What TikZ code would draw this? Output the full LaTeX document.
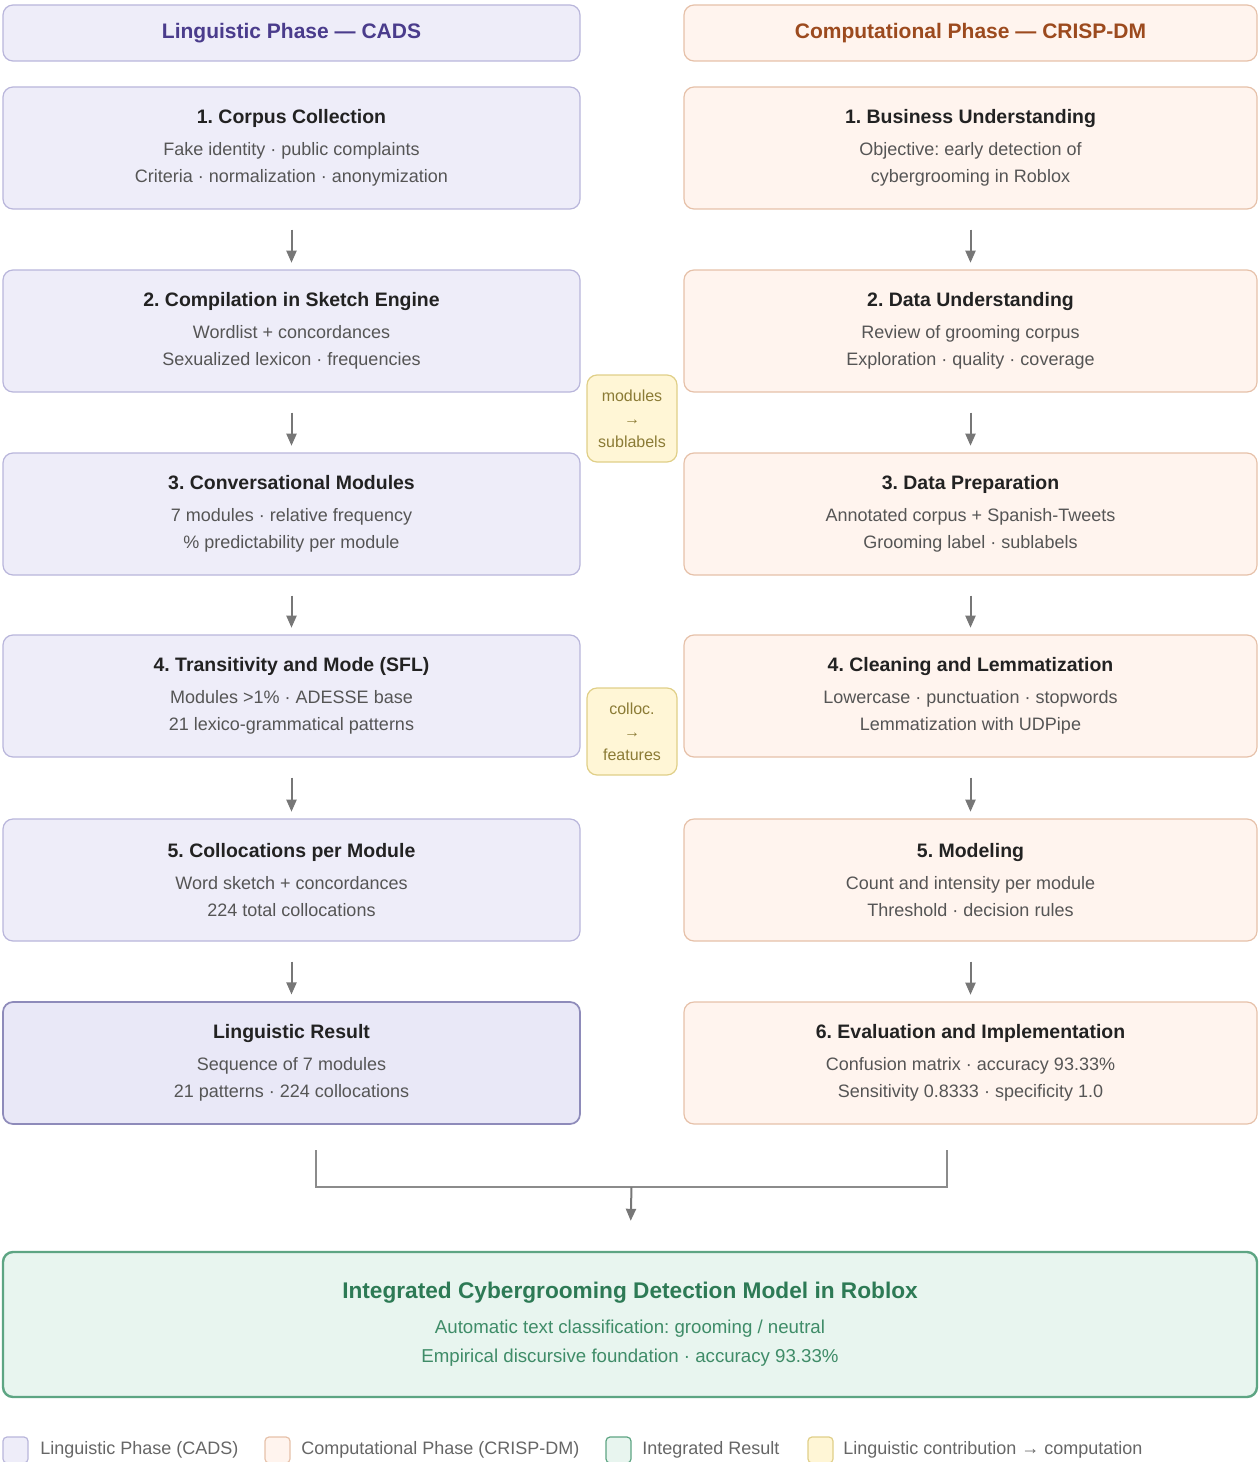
\documentclass[tikz,border=0pt]{standalone}
\usepackage{fontspec}
\setmainfont{Liberation Sans}
\frenchspacing
\usetikzlibrary{arrows.meta,calc}
\definecolor{lfill}{HTML}{EEEDF9}
\definecolor{ldraw}{HTML}{B9B6DB}
\definecolor{lhead}{HTML}{4A3C8C}
\definecolor{rfill}{HTML}{FFF4EE}
\definecolor{rdraw}{HTML}{E6C1A9}
\definecolor{rhead}{HTML}{9C4A1E}
\definecolor{yfill}{HTML}{FFF6D6}
\definecolor{ydraw}{HTML}{E0CF88}
\definecolor{ytext}{HTML}{8B7B35}
\definecolor{gfill}{HTML}{E8F5EF}
\definecolor{gdraw}{HTML}{5DA583}
\definecolor{gtitle}{HTML}{2D7A55}
\definecolor{gtext}{HTML}{3F8C68}
\definecolor{bodytext}{HTML}{555555}
\definecolor{titletext}{HTML}{222222}
\definecolor{arrowgray}{HTML}{777777}
\definecolor{resdraw}{HTML}{8E8BBA}
\definecolor{resfill}{HTML}{E9E8F7}
\definecolor{legtext}{HTML}{666666}
\newcommand{\boxtext}[3]{{\fontsize{14.6}{20.25}\selectfont\bfseries\color{titletext}#1}\\[3.75pt]#2\\#3}
\tikzset{
  base/.style={rounded corners=7.5pt, line width=0.9pt, align=center, inner sep=0pt},
  lhdr/.style={base, fill=lfill, draw=ldraw, minimum width=432.75pt, minimum height=42pt, text=lhead, font=\fontsize{15.75}{18}\selectfont\bfseries},
  rhdr/.style={base, fill=rfill, draw=rdraw, minimum width=429.75pt, minimum height=42pt, text=rhead, font=\fontsize{15.75}{18}\selectfont\bfseries},
  lstep/.style={base, fill=lfill, draw=ldraw, minimum width=432.75pt, minimum height=91.5pt, text=bodytext, font=\fontsize{13.5}{20.25}\selectfont},
  rstep/.style={base, fill=rfill, draw=rdraw, minimum width=429.75pt, minimum height=91.5pt, text=bodytext, font=\fontsize{13.5}{20.25}\selectfont},
  lres/.style={lstep, fill=resfill, draw=resdraw, line width=1.3pt},
  ybox/.style={base, fill=yfill, draw=ydraw, minimum width=67.5pt, minimum height=65.25pt, text=ytext, font=\fontsize{12}{17.25}\selectfont},
  gbox/.style={base, fill=gfill, draw=gdraw, line width=1.8pt, minimum width=940.5pt, minimum height=108.75pt, text=gtext, font=\fontsize{14}{21.75}\selectfont},
  arr/.style={draw=arrowgray, line width=1.5pt, -{Triangle[width=7.5pt,length=9pt]}},
  conn/.style={draw=arrowgray!85, line width=1.5pt},
  legsq/.style={rounded corners=3pt, line width=0.9pt, minimum width=18.75pt, minimum height=19.5pt, inner sep=0pt},
  legtxt/.style={anchor=west, text=legtext, font=\fontsize{13.5}{16}\selectfont, inner sep=0pt}
}
\begin{document}
\begin{tikzpicture}[x=0.75pt,y=-0.75pt]
\useasboundingbox (0,0) rectangle (1258,1462);
% headers
\node[lhdr] (lh) at (291.5,33) {Linguistic Phase — CADS};
\node[rhdr] (rh) at (970.5,33) {Computational Phase — CRISP-DM};
% left column
\node[lstep] (l1) at (291.5,148) {\boxtext{1. Corpus Collection}{Fake identity · public complaints}{Criteria · normalization · anonymization}};
\node[lstep] (l2) at (291.5,331) {\boxtext{2. Compilation in Sketch Engine}{Wordlist + concordances}{Sexualized lexicon · frequencies}};
\node[lstep] (l3) at (291.5,514) {\boxtext{3. Conversational Modules}{7 modules · relative frequency}{\% predictability per module}};
\node[lstep] (l4) at (291.5,696) {\boxtext{4. Transitivity and Mode (SFL)}{Modules >1\% · ADESSE base}{21 lexico-grammatical patterns}};
\node[lstep] (l5) at (291.5,880) {\boxtext{5. Collocations per Module}{Word sketch + concordances}{224 total collocations}};
\node[lres] (l6) at (291.5,1063) {\boxtext{Linguistic Result}{Sequence of 7 modules}{21 patterns · 224 collocations}};
% right column
\node[rstep] (r1) at (970.5,148) {\boxtext{1. Business Understanding}{Objective: early detection of}{cybergrooming in Roblox}};
\node[rstep] (r2) at (970.5,331) {\boxtext{2. Data Understanding}{Review of grooming corpus}{Exploration · quality · coverage}};
\node[rstep] (r3) at (970.5,514) {\boxtext{3. Data Preparation}{Annotated corpus + Spanish-Tweets}{Grooming label · sublabels}};
\node[rstep] (r4) at (970.5,696) {\boxtext{4. Cleaning and Lemmatization}{Lowercase · punctuation · stopwords}{Lemmatization with UDPipe}};
\node[rstep] (r5) at (970.5,880) {\boxtext{5. Modeling}{Count and intensity per module}{Threshold · decision rules}};
\node[rstep] (r6) at (970.5,1063) {\boxtext{6. Evaluation and Implementation}{Confusion matrix · accuracy 93.33\%}{Sensitivity 0.8333 · specificity 1.0}};
% yellow contribution boxes
\node[ybox] (y1) at (632,418.5) {modules\\→\\sublabels};
\node[ybox] (y2) at (632,731.5) {colloc.\\→\\features};
% vertical arrows
\foreach \a/\b in {l1/l2,l2/l3,l3/l4,l4/l5,l5/l6,r1/r2,r2/r3,r3/r4,r4/r5,r5/r6}
  \draw[arr, shorten <=15pt, shorten >=5pt] (\a.south) -- (\b.north);
% integrated result
\node[gbox] (g) at (630,1324.5) {{\fontsize{17}{21.75}\selectfont\bfseries\color{gtitle}Integrated Cybergrooming Detection Model in Roblox}\\[4.5pt]Automatic text classification: grooming / neutral\\Empirical discursive foundation · accuracy 93.33\%};
% join connector
\coordinate (jl) at (316,1150);
\coordinate (jr) at (947,1150);
\coordinate (jm) at (631.5,1187);
\draw[conn] (jl) |- (jm) -| (jr);
\draw[arr, shorten >=22.5pt] (jm) -- (g.north);
% legend
\node[legsq, fill=lfill, draw=ldraw] (k1) at (15.5,1450) {};
\node[legtxt] (t1) at (40,1450) {Linguistic Phase (CADS)};
\node[legsq, fill=rfill, draw=rdraw] (k2) at (277.5,1450) {};
\node[legtxt] (t2) at (301,1450) {Computational Phase (CRISP-DM)};
\node[legsq, fill=gfill, draw=gdraw] (k3) at (618.5,1450) {};
\node[legtxt] (t3) at (642,1450) {Integrated Result};
\node[legsq, fill=yfill, draw=ydraw] (k4) at (820.5,1450) {};
\node[legtxt] (t4) at (843,1450) {Linguistic contribution → computation};
\end{tikzpicture}
\end{document}
